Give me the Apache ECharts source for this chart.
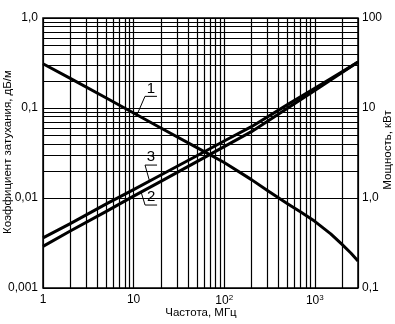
<!DOCTYPE html>
<html>
<head>
<meta charset="utf-8">
<script src="https://cdn.jsdelivr.net/npm/echarts@6/dist/echarts.min.js"></script>
<style>
  html, body { margin: 0; padding: 0; background: #fff; }
  #chart { width: 395px; height: 324px; }
</style>
</head>
<body>
<div id="chart"></div>
<script>
// Frequency points (MHz) for the attenuation curves
const freq = [1, 2, 5, 10, 20, 50, 100, 200, 500, 1000, 2000, 3000];
// Curve 3: attenuation coefficient, dB/m
const attenuation3 = [0.0036, 0.0052, 0.0086, 0.0124, 0.018, 0.0295, 0.043, 0.062, 0.109, 0.166, 0.252, 0.324];
// Curve 2: attenuation coefficient, dB/m
const attenuation2 = [0.0029, 0.0043, 0.0071, 0.0105, 0.0153, 0.0254, 0.0372, 0.0546, 0.0996, 0.157, 0.248, 0.324];
// Curve 1: transmitted power, kW
const powerFreq = [1, 2, 5, 10, 20, 50, 100, 200, 300, 500, 700, 1000, 1500, 2000, 2500, 3000];
const power = [31, 21.3, 12.9, 8.8, 6.0, 3.63, 2.48, 1.6, 1.21, 0.865, 0.70, 0.55, 0.40, 0.305, 0.245, 0.2];

// Tick labels by decade exponent
const xTickLabels = ['1', '10', '{b|10}{sup|2}', '{b|10}{sup|3}'];      // 10^0 .. 10^3
const leftTickLabels = ['0,001', '0,01', '0,1', '1,0'];              // 10^-3 .. 10^0
const rightTickLabels = ['0,1', '1,0', '10', '100'];                 // 10^-1 .. 10^2

// Axis titles
const xTitle = 'Частота, МГц';
const leftTitle = 'Коэффициент затухания, дБ/м';
const rightTitle = 'Мощность, кВт';

const FONT = 'Liberation Sans, Arial, Helvetica, sans-serif';
const INK = '#000';
const GRID_INK = '#000';

// Intermediate lines of the log paper (2..9 in every decade)
function minorValues(lo, hi) {
  const out = [];
  for (let d = lo; d < hi; d *= 10) {
    for (let k = 2; k <= 9; k++) {
      const v = Math.round(k * d * 1e6) / 1e6;
      if (v > lo && v < hi) out.push(v);
    }
  }
  return out;
}
const xMinor = minorValues(1, 3000);
const yMinor = minorValues(0.001, 1);

const expOf = v => Math.round(Math.log10(v));

const chart = echarts.init(document.getElementById('chart'), null, { renderer: 'canvas' });

const curveStyle = {
  type: 'line', z: 5, smooth: false,
  showSymbol: false, symbol: 'none',
  lineStyle: { color: INK, width: 3, join: 'round' }
};

const option = {
  animation: false,
  backgroundColor: '#fff',
  textStyle: { fontFamily: FONT },
  grid: {
    left: 43, right: 37, top: 18, bottom: 36,
    outerBoundsMode: 'none', containLabel: false,
    show: true, borderColor: INK, borderWidth: 1.5, backgroundColor: 'transparent'
  },
  xAxis: {
    type: 'log', logBase: 10, min: 1, max: 3000,
    axisLine: { show: false }, axisTick: { show: false },
    splitLine: { show: true, lineStyle: { color: GRID_INK, width: 1.2 } },
    axisLabel: {
      margin: 6, color: INK, fontSize: 12, fontFamily: FONT,
      formatter: v => {
        const e = expOf(v);
        return Math.abs(Math.log10(v) - e) < 1e-6 && xTickLabels[e] !== undefined ? xTickLabels[e] : '';
      },
      rich: {
        b: { fontSize: 12, lineHeight: 14, color: INK, fontFamily: FONT },
        sup: { fontSize: 8, lineHeight: 8, verticalAlign: 'top', color: INK, fontFamily: FONT }
      }
    }
  },
  yAxis: [
    {
      type: 'log', logBase: 10, min: 0.001, max: 1, position: 'left',
      axisLine: { show: false }, axisTick: { show: false },
      splitLine: { show: true, lineStyle: { color: GRID_INK, width: 1.2 } },
      axisLabel: {
        margin: 5, color: INK, fontSize: 12, fontFamily: FONT,
        formatter: v => leftTickLabels[expOf(v) + 3] || ''
      }
    },
    {
      type: 'log', logBase: 10, min: 0.1, max: 100, position: 'right',
      axisLine: { show: false }, axisTick: { show: false },
      splitLine: { show: false },
      axisLabel: {
        margin: 4, color: INK, fontSize: 12, fontFamily: FONT,
        formatter: v => rightTickLabels[expOf(v) + 1] || ''
      }
    }
  ],
  series: [
    {
      // log-paper minor lines
      name: 'paper', type: 'line', data: [], z: 1, silent: true,
      markLine: {
        silent: true, symbol: 'none', animation: false,
        label: { show: false },
        lineStyle: { color: GRID_INK, width: 1.2, type: 'solid' },
        emphasis: { disabled: true },
        data: xMinor.map(v => ({ xAxis: v })).concat(yMinor.map(v => ({ yAxis: v })))
      }
    },
    Object.assign({ name: '1', yAxisIndex: 1, data: powerFreq.map((f, i) => [f, power[i]]) }, curveStyle),
    Object.assign({ name: '2', yAxisIndex: 0, data: freq.map((f, i) => [f, attenuation2[i]]) }, curveStyle),
    Object.assign({ name: '3', yAxisIndex: 0, data: freq.map((f, i) => [f, attenuation3[i]]) }, curveStyle)
  ]
};

chart.setOption(option);

// Curve callouts: leader from a point on the curve, short shelf, number above it
function logInterp(xs, ys, x) {
  const lx = Math.log10(x);
  for (let i = 0; i < xs.length - 1; i++) {
    const a = Math.log10(xs[i]), b = Math.log10(xs[i + 1]);
    if (lx >= a && lx <= b) {
      const t = (lx - a) / (b - a);
      return Math.pow(10, Math.log10(ys[i]) + t * (Math.log10(ys[i + 1]) - Math.log10(ys[i])));
    }
  }
  return ys[ys.length - 1];
}

const callouts = [
  { text: '1', axis: 1, xs: powerFreq, ys: power, at: 10.9, elbow: [8, -18.5], end: [20, -18.5], label: [14, -26] },
  { text: '3', axis: 0, xs: freq, ys: attenuation3, at: 15, elbow: [-4.5, -16], end: [7.5, -16], label: [1.5, -24] },
  { text: '2', axis: 0, xs: freq, ys: attenuation2, at: 12.1, elbow: [4, 13], end: [16, 13], label: [10, 5] }
];

const graphics = [];
callouts.forEach(c => {
  const p = chart.convertToPixel({ xAxisIndex: 0, yAxisIndex: c.axis }, [c.at, logInterp(c.xs, c.ys, c.at)]);
  graphics.push({
    type: 'polyline', silent: true, z: 10,
    shape: { points: [p, [p[0] + c.elbow[0], p[1] + c.elbow[1]], [p[0] + c.end[0], p[1] + c.end[1]]] },
    style: { stroke: INK, lineWidth: 1, fill: null }
  });
  graphics.push({
    type: 'text', silent: true, z: 10,
    x: p[0] + c.label[0], y: p[1] + c.label[1],
    style: { text: c.text, fill: INK, font: '15px ' + FONT, textAlign: 'center', textVerticalAlign: 'middle' }
  });
});

// Axis titles, placed relative to the plot rectangle
const titleFont = '11.5px ' + FONT;
graphics.push(
  { type: 'text', silent: true, x: 201, y: 313,
    style: { text: xTitle, fill: INK, font: titleFont, textAlign: 'center', textVerticalAlign: 'middle' } },
  { type: 'text', silent: true, x: 8, y: 152, rotation: Math.PI / 2,
    style: { text: leftTitle, fill: INK, font: titleFont, textAlign: 'center', textVerticalAlign: 'middle' } },
  { type: 'text', silent: true, x: 388, y: 150, rotation: Math.PI / 2,
    style: { text: rightTitle, fill: INK, font: titleFont, textAlign: 'center', textVerticalAlign: 'middle' } }
);
chart.setOption({ graphic: graphics });
</script>
</body>
</html>
